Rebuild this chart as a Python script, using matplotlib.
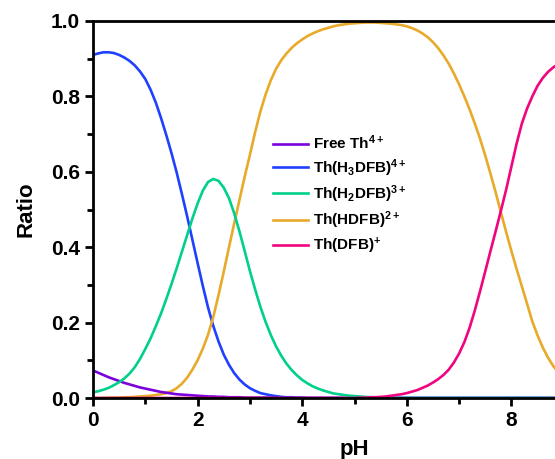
import numpy as np
import matplotlib.pyplot as plt

plt.rcParams['font.family'] = ['Liberation Sans', 'DejaVu Sans']
plt.rcParams['font.weight'] = 'bold'
plt.rcParams['mathtext.fontset'] = 'custom'
plt.rcParams['mathtext.rm'] = 'Liberation Sans:bold'
plt.rcParams['mathtext.bf'] = 'Liberation Sans:bold'
plt.rcParams['mathtext.default'] = 'rm'

# pH grid (0 .. 9 in steps of 0.1)
ph = np.round(np.arange(0, 91) * 0.1, 1)

free_th = [0.073, 0.067, 0.061, 0.055, 0.050, 0.045, 0.040, 0.036, 0.032, 0.028,
           0.025, 0.022, 0.019, 0.016, 0.014, 0.012, 0.010, 0.009, 0.008, 0.007,
           0.006, 0.005, 0.004, 0.004, 0.003, 0.003, 0.002, 0.002, 0.002, 0.001,
           0.001, 0.001, 0.001, 0.001, 0.001, 0.001, 0.0, 0.0, 0.0, 0.0,
           0.0, 0.0, 0.0, 0.0, 0.0, 0.0, 0.0, 0.0, 0.0, 0.0,
           0.0, 0.0, 0.0, 0.0, 0.0, 0.0, 0.0, 0.0, 0.0, 0.0,
           0.0, 0.0, 0.0, 0.0, 0.0, 0.0, 0.0, 0.0, 0.0, 0.0,
           0.0, 0.0, 0.0, 0.0, 0.0, 0.0, 0.0, 0.0, 0.0, 0.0,
           0.0, 0.0, 0.0, 0.0, 0.0, 0.0, 0.0, 0.0, 0.0, 0.0,
           0.0]

h3dfb = [0.910, 0.914, 0.917, 0.917, 0.915, 0.910, 0.903, 0.894, 0.882, 0.866,
         0.846, 0.818, 0.784, 0.743, 0.698, 0.650, 0.598, 0.541, 0.482, 0.420,
         0.358, 0.297, 0.240, 0.191, 0.150, 0.115, 0.088, 0.066, 0.049, 0.036,
         0.026, 0.019, 0.013, 0.010, 0.007, 0.005, 0.003, 0.002, 0.002, 0.001,
         0.001, 0.0, 0.0, 0.0, 0.0, 0.0, 0.0, 0.0, 0.0, 0.0,
         0.0, 0.0, 0.0, 0.0, 0.0, 0.0, 0.0, 0.0, 0.0, 0.0,
         0.0, 0.0, 0.0, 0.0, 0.0, 0.0, 0.0, 0.0, 0.0, 0.0,
         0.0, 0.0, 0.0, 0.0, 0.0, 0.0, 0.0, 0.0, 0.0, 0.0,
         0.0, 0.0, 0.0, 0.0, 0.0, 0.0, 0.0, 0.0, 0.0, 0.0,
         0.0]

h2dfb = [0.015, 0.018, 0.022, 0.027, 0.034, 0.042, 0.052, 0.065, 0.082, 0.104,
         0.130, 0.158, 0.190, 0.224, 0.262, 0.302, 0.344, 0.388, 0.432, 0.476,
         0.516, 0.550, 0.573, 0.581, 0.576, 0.558, 0.530, 0.490, 0.442, 0.390,
         0.337, 0.288, 0.242, 0.202, 0.167, 0.137, 0.112, 0.091, 0.074, 0.060,
         0.048, 0.039, 0.031, 0.025, 0.020, 0.016, 0.012, 0.010, 0.008, 0.006,
         0.005, 0.004, 0.003, 0.002, 0.002, 0.001, 0.001, 0.0, 0.0, 0.0,
         0.0, 0.0, 0.0, 0.0, 0.0, 0.0, 0.0, 0.0, 0.0, 0.0,
         0.0, 0.0, 0.0, 0.0, 0.0, 0.0, 0.0, 0.0, 0.0, 0.0,
         0.0, 0.0, 0.0, 0.0, 0.0, 0.0, 0.0, 0.0, 0.0, 0.0,
         0.0]

hdfb = [0.000, 0.000, 0.000, 0.001, 0.001, 0.001, 0.002, 0.002, 0.003, 0.004,
        0.005, 0.006, 0.008, 0.010, 0.013, 0.018, 0.026, 0.038, 0.054, 0.075,
        0.100, 0.131, 0.168, 0.215, 0.273, 0.335, 0.400, 0.463, 0.525, 0.587,
        0.645, 0.705, 0.760, 0.805, 0.843, 0.873, 0.896, 0.914, 0.929, 0.941,
        0.951, 0.960, 0.967, 0.973, 0.978, 0.982, 0.986, 0.989, 0.991, 0.993,
        0.994, 0.995, 0.996, 0.996, 0.996, 0.995, 0.994, 0.993, 0.991, 0.989,
        0.986, 0.981, 0.975, 0.967, 0.957, 0.944, 0.928, 0.909, 0.887, 0.861,
        0.832, 0.800, 0.766, 0.728, 0.688, 0.643, 0.595, 0.545, 0.492, 0.440,
        0.390, 0.342, 0.296, 0.250, 0.203, 0.166, 0.134, 0.107, 0.085, 0.067,
        0.053]

dfb = [0.0, 0.0, 0.0, 0.0, 0.0, 0.0, 0.0, 0.0, 0.0, 0.0,
       0.0, 0.0, 0.0, 0.0, 0.0, 0.0, 0.0, 0.0, 0.0, 0.0,
       0.0, 0.0, 0.0, 0.0, 0.0, 0.0, 0.0, 0.0, 0.0, 0.0,
       0.0, 0.0, 0.0, 0.0, 0.0, 0.0, 0.0, 0.0, 0.0, 0.0,
       0.0, 0.0, 0.0, 0.0, 0.0, 0.0, 0.0, 0.0, 0.0, 0.0,
       0.0, 0.001, 0.001, 0.002, 0.002, 0.003, 0.004, 0.006, 0.008, 0.010,
       0.013, 0.017, 0.021, 0.027, 0.033, 0.041, 0.050, 0.061, 0.075, 0.094,
       0.118, 0.148, 0.186, 0.232, 0.283, 0.336, 0.390, 0.443, 0.497, 0.553,
       0.614, 0.675, 0.728, 0.768, 0.800, 0.828, 0.849, 0.865, 0.877, 0.886,
       0.893]

labels = [r'Free Th$^{4+}$', r'Th(H$_3$DFB)$^{4+}$', r'Th(H$_2$DFB)$^{3+}$',
          r'Th(HDFB)$^{2+}$', r'Th(DFB)$^{+}$']
colors = ['#7A00DC', '#2040FF', '#00D08A', '#E8AA2A', '#F0047F']
series = [free_th, h3dfb, h2dfb, hdfb, dfb]

fig = plt.figure(figsize=(5.55, 4.59), dpi=100)
ax = fig.add_axes([93 / 555, 61 / 459, 523 / 555, 377 / 459])

# pink zero-line on top at low pH
order = [1, 3, 0, 2, 4]
lines = {}
for i in order:
    lines[i], = ax.plot(ph, series[i], color=colors[i], lw=1.9, label=labels[i])

ax.set_xlim(0, 10)
ax.set_ylim(0, 1.0)
ax.set_xticks([0, 2, 4, 6, 8])
ax.set_xticks([1, 3, 5, 7, 9], minor=True)
ax.set_yticks([0.0, 0.2, 0.4, 0.6, 0.8, 1.0])
ax.set_yticks([0.1, 0.3, 0.5, 0.7, 0.9], minor=True)
ax.tick_params(which='major', direction='out', length=6, width=2, labelsize=15)
ax.tick_params(which='minor', direction='out', length=4, width=2)
ax.tick_params(top=False, right=False)
for s in ax.spines.values():
    s.set_linewidth(2)

ax.set_xlabel('pH', fontsize=16, fontweight='bold', labelpad=6)
ax.set_ylabel('Ratio', fontsize=16, fontweight='bold', labelpad=10)

ax.legend([lines[i] for i in range(5)], labels, frameon=False,
          loc='upper left', bbox_to_anchor=(259 / 555, 1 - 120 / 459),
          bbox_transform=fig.transFigure, handlelength=2.3,
          handletextpad=0.33, labelspacing=0.3,
          prop={'weight': 'bold', 'size': 11})

fig.savefig('out.png', dpi=100)
